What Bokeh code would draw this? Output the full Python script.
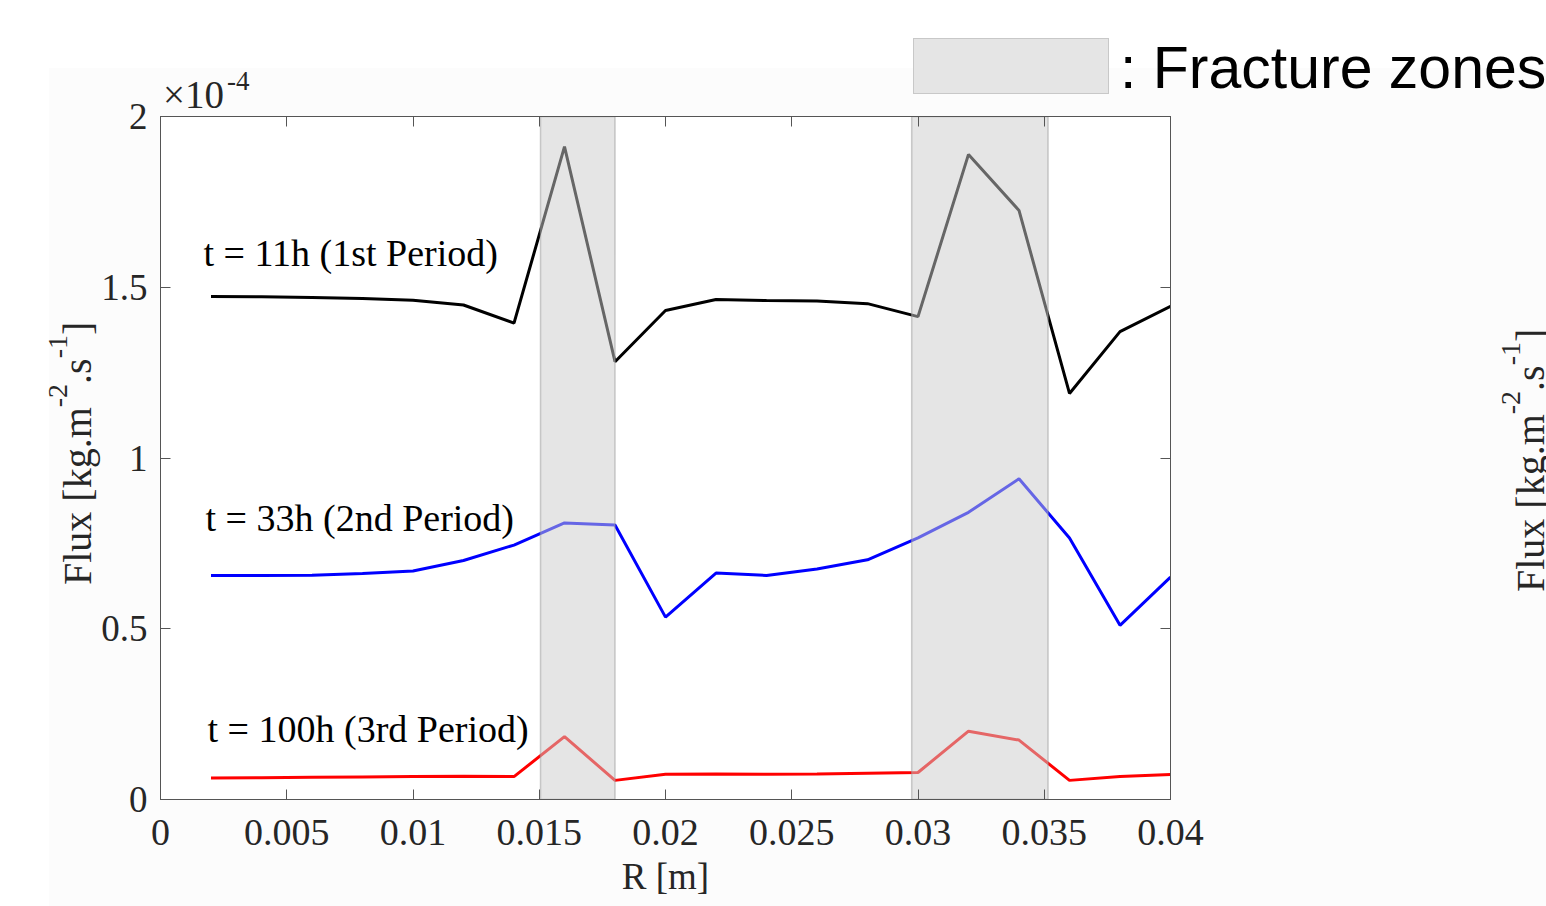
from bokeh.plotting import figure
from bokeh.models import Range1d, FixedTicker, LinearAxis, Label, GridBox, Div
from bokeh.embed import file_html
from bokeh.resources import INLINE

# ---------------- data (flux in units of 1e-4 kg.m^-2.s^-1) ----------------
r_m = [0.002, 0.004, 0.006, 0.008, 0.010, 0.012, 0.014, 0.016, 0.018, 0.020,
       0.022, 0.024, 0.026, 0.028, 0.030, 0.032, 0.034, 0.036, 0.038, 0.040]
flux_11h = [1.473, 1.472, 1.470, 1.467, 1.462, 1.448, 1.395, 1.912, 1.282, 1.432,
            1.464, 1.461, 1.460, 1.452, 1.414, 1.889, 1.725, 1.189, 1.370, 1.444]
flux_33h = [0.656, 0.656, 0.657, 0.662, 0.669, 0.700, 0.745, 0.810, 0.804, 0.534,
            0.663, 0.656, 0.675, 0.702, 0.766, 0.841, 0.939, 0.766, 0.510, 0.651]
flux_100h = [0.063, 0.064, 0.065, 0.066, 0.067, 0.068, 0.067, 0.184, 0.056, 0.074,
             0.075, 0.074, 0.075, 0.077, 0.079, 0.200, 0.174, 0.056, 0.067, 0.073]

zone_start = [0.01505, 0.02975]
zone_end = [0.0180, 0.03515]

x_ticks = [0, 0.005, 0.01, 0.015, 0.02, 0.025, 0.03, 0.035, 0.04]
x_tick_labels = ["0", "0.005", "0.01", "0.015", "0.02", "0.025", "0.03", "0.035", "0.04"]
y_ticks = [0, 0.5, 1, 1.5, 2]
y_tick_labels = ["0", "0.5", "1", "1.5", "2"]

period_labels = ["t = 11h (1st Period)", "t = 33h (2nd Period)", "t = 100h (3rd Period)"]
series_colors = ["#000000", "#0000ff", "#ff0000"]
key_label = ": Fracture zones"
y_label_parts = ["Flux [kg.m", "-2", ".s", "-1", "]"]   # odd entries are superscripts
y_exponent = ["\u00d710", "-4"]

# ---------------- layout ----------------
CW, CH = 1546, 906
FL, FT, FW, FH = 160, 116, 1010, 683
XMIN, XMAX, YMIN, YMAX = 0.0, 0.04, 0.0, 2.0


def dx(px):
    return XMIN + (px - FL) / FW * (XMAX - XMIN)


def dy(py):
    return YMIN + (FT + FH - py) / FH * (YMAX - YMIN)


SERIF = "Liberation Serif"
TXT = "#262626"
AX = "#555555"

# ---------------- faint figure background (underneath) ----------------
bg = Div(text=(f'<div style="position:relative;width:{CW}px;height:{CH}px;overflow:hidden;">'
               f'<div style="position:absolute;left:49px;top:68px;width:{CW - 49}px;'
               f'height:{CH - 68}px;background:#fcfcfc;"></div></div>'),
         width=CW, height=CH, margin=0)

# ---------------- main chart ----------------
p = figure(frame_width=FW, frame_height=FH,
           min_border_left=FL, min_border_top=FT,
           min_border_right=CW - FL - FW, min_border_bottom=CH - FT - FH,
           x_range=Range1d(XMIN, XMAX), y_range=Range1d(YMIN, YMAX),
           output_backend="svg", toolbar_location=None,
           x_axis_label="R [m]")
p.background_fill_color = "white"
p.border_fill_alpha = 0
p.outline_line_color = AX
p.xgrid.visible = False
p.ygrid.visible = False

for ys, c in zip([flux_11h, flux_33h, flux_100h], series_colors):
    p.line(r_m, ys, line_color=c, line_width=3)

# fracture zones drawn on top (semi-transparent)
p.quad(left=zone_start, right=zone_end, bottom=YMIN, top=YMAX,
       fill_color="#cbcbcb", fill_alpha=0.5,
       line_color="#9a9a9a", line_alpha=0.5, line_width=1.5)


def style_axis(ax, labels, show):
    ax.major_tick_in = 10
    ax.major_tick_out = 0
    ax.minor_tick_line_color = None
    ax.axis_line_color = AX
    ax.major_tick_line_color = AX
    ax.major_label_text_font = SERIF
    ax.major_label_text_color = TXT
    if show:
        ax.major_label_overrides = labels
    else:
        ax.major_label_overrides = {k: "" for k in labels}
        ax.major_label_text_font_size = "0px"
        ax.major_label_standoff = 0


xlab = {t: l for t, l in zip(x_ticks, x_tick_labels)}
ylab = {t: l for t, l in zip(y_ticks, y_tick_labels)}

p.xaxis.ticker = FixedTicker(ticks=x_ticks, minor_ticks=[])
p.yaxis.ticker = FixedTicker(ticks=y_ticks, minor_ticks=[])
style_axis(p.xaxis[0], xlab, True)
style_axis(p.yaxis[0], ylab, True)
p.xaxis.major_label_text_font_size = "38px"
p.yaxis.major_label_text_font_size = "37px"
p.xaxis.major_label_standoff = 20
p.yaxis.major_label_standoff = 13
p.xaxis.axis_label_text_font = SERIF
p.xaxis.axis_label_text_font_size = "37px"
p.xaxis.axis_label_text_font_style = "normal"
p.xaxis.axis_label_text_color = TXT
p.xaxis.axis_label_standoff = 8

top_ax = LinearAxis(ticker=FixedTicker(ticks=x_ticks, minor_ticks=[]))
style_axis(top_ax, xlab, False)
p.add_layout(top_ax, "above")
right_ax = LinearAxis(ticker=FixedTicker(ticks=y_ticks, minor_ticks=[]))
style_axis(right_ax, ylab, False)
p.add_layout(right_ax, "right")

# period annotations
for txt, px, py in zip(period_labels, [203, 205, 207], [252, 517, 728]):
    p.add_layout(Label(x=dx(px), y=dy(py), text=txt, text_font=SERIF,
                       text_font_size="38px", text_color="black",
                       text_baseline="alphabetic", text_align="left"))

# ---------------- transparent HTML overlay for texts outside the axes box ----------------
SER_ASC = 0.8375   # baseline offset (em) for line-height:1, Liberation Serif
SAN_ASC = 0.8465   # same for Liberation Sans


def sup(txt, size, raise_px, ml=0):
    return (f'<span style="font-size:{size}px;position:relative;top:-{raise_px}px;'
            f'margin-left:{ml}px;">{txt}</span>')


def ylabel_html(base_x, start_y, size=40):
    parts = []
    for i, s in enumerate(y_label_parts):
        parts.append(sup(s, 28, 24) if i % 2 else s)
    left = base_x - SER_ASC * size
    return (f'<div style="position:absolute;left:{left:.1f}px;top:{start_y}px;'
            f'font-family:\'{SERIF}\';font-size:{size}px;line-height:1;color:{TXT};'
            f'white-space:nowrap;transform-origin:0 0;transform:rotate(-90deg);">'
            + "".join(parts) + '</div>')


exp_html = (f'<div style="position:absolute;left:163px;top:{108 - SER_ASC * 39:.1f}px;'
            f'font-family:\'{SERIF}\';font-size:39px;line-height:1;color:{TXT};'
            f'white-space:nowrap;">{y_exponent[0]}{sup(y_exponent[1], 27, 18, 3)}</div>')

key_html = (f'<div style="position:absolute;left:913px;top:38px;width:196px;height:56px;'
            f'background:#e5e5e5;border:1px solid #c8c8c8;"></div>'
            f'<div style="position:absolute;left:1120px;top:{89 - SAN_ASC * 59:.1f}px;'
            f'font-family:\'Liberation Sans\';font-size:59px;line-height:1;color:black;'
            f'white-space:nowrap;">{key_label}</div>')

html = (f'<div style="position:relative;width:{CW}px;height:{CH}px;overflow:hidden;">'
        + exp_html + ylabel_html(91, 585) + ylabel_html(91 + 1453, 592) + key_html
        + '</div>')

overlay = Div(text=html, width=CW, height=CH, margin=0)

layout = GridBox(children=[(bg, 0, 0), (p, 0, 0), (overlay, 0, 0)])

open("out.html", "w").write(file_html(layout, INLINE))
